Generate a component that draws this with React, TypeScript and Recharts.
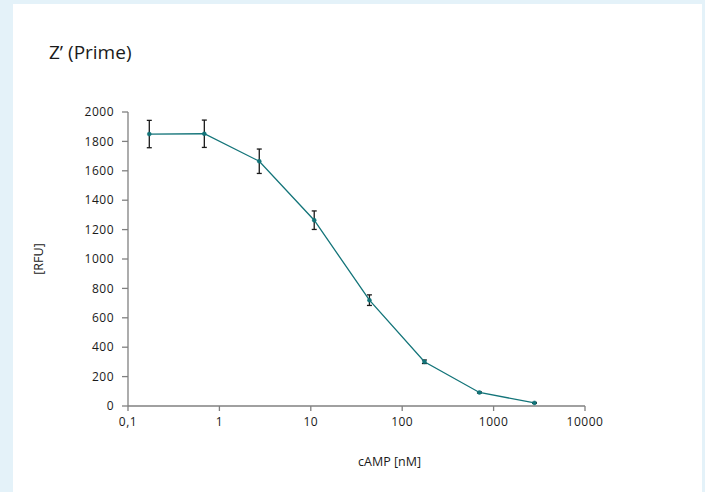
import React from 'react';
import { LineChart, Line, XAxis, YAxis, ErrorBar, Label } from 'recharts';

const concentrations = [0.171, 0.684, 2.73, 10.9, 43.8, 175, 700, 2800];
const rfu = [1850, 1852, 1665, 1264, 720, 301, 92, 21];
const errors = [93, 93, 83, 63, 36, 12, 4, 3];
const xTicks = [0.1, 1, 10, 100, 1000, 10000];
const yTicks = [0, 200, 400, 600, 800, 1000, 1200, 1400, 1600, 1800, 2000];

const data = concentrations.map((c, i) => ({ x: c, y: rfu[i], err: errors[i] }));

const FONT = '"Open Sans", "DejaVu Sans", sans-serif';
const AXIS_COLOR = '#808080';
const LINE_COLOR = '#137479';

const fmtX = (v: number) => String(v).replace('.', ',');

export default function App() {
  return (
    <div style={{ position: 'absolute', left: 0, top: 0, width: 705, height: 492, background: '#e4f2f9', overflow: 'hidden' }}>
      <div style={{ position: 'absolute', left: 13, top: 4, width: 689, height: 488, background: '#ffffff' }} />
      <div
        style={{
          position: 'absolute',
          left: 49,
          top: 39,
          fontFamily: FONT,
          fontSize: 19,
          color: '#1a1a1a',
          whiteSpace: 'nowrap',
          lineHeight: '26px',
        }}
      >
        Z’ (Prime)
      </div>
      <div style={{ position: 'absolute', left: 0, top: 0 }}>
        <LineChart
          width={705}
          height={492}
          data={data}
          margin={{ top: 112, right: 120, bottom: 56, left: 68 }}
        >
          <XAxis
            dataKey="x"
            type="number"
            scale="log"
            domain={[0.1, 10000]}
            ticks={xTicks}
            tickFormatter={fmtX}
            allowDataOverflow
            height={30}
            stroke={AXIS_COLOR}
            strokeWidth={1.3}
            tickSize={5}
            tickMargin={6}
            tick={{ fill: '#1a1a1a', fontSize: 12, fontFamily: FONT, letterSpacing: 0.5 }}
          >
            <Label
              content={(props: any) => {
                const vb = props.viewBox || {};
                return (
                  <text
                    x={vb.x + vb.width / 2 + 33}
                    y={vb.y + 60}
                    textAnchor="middle"
                    fill="#1a1a1a"
                    fontFamily={FONT}
                    fontSize={12.5}
                  >
                    cAMP [nM]
                  </text>
                );
              }}
            />
          </XAxis>
          <YAxis
            dataKey="y"
            type="number"
            domain={[0, 2000]}
            ticks={yTicks}
            width={60}
            stroke={AXIS_COLOR}
            strokeWidth={1.3}
            tickSize={6}
            tickMargin={8}
            interval={0}
            tick={{ fill: '#1a1a1a', fontSize: 12, fontFamily: FONT, letterSpacing: 0.5 }}
          >
            <Label
              content={(props: any) => {
                const vb = props.viewBox || {};
                const cx = vb.x - 30;
                const cy = vb.y + vb.height / 2;
                return (
                  <text
                    x={cx}
                    y={cy}
                    textAnchor="middle"
                    dominantBaseline="central"
                    transform={`rotate(-90 ${cx} ${cy})`}
                    fill="#1a1a1a"
                    fontFamily={FONT}
                    fontSize={12.5}
                  >
                    [RFU]
                  </text>
                );
              }}
            />
          </YAxis>
          <Line
            type="linear"
            dataKey="y"
            stroke={LINE_COLOR}
            strokeWidth={1.3}
            dot={{ r: 2, fill: LINE_COLOR, stroke: LINE_COLOR, strokeWidth: 0.5 }}
            isAnimationActive={false}
          >
            <ErrorBar dataKey="err" direction="y" width={2.5} stroke="#1a1a1a" strokeWidth={1.3} />
          </Line>
        </LineChart>
      </div>
    </div>
  );
}
